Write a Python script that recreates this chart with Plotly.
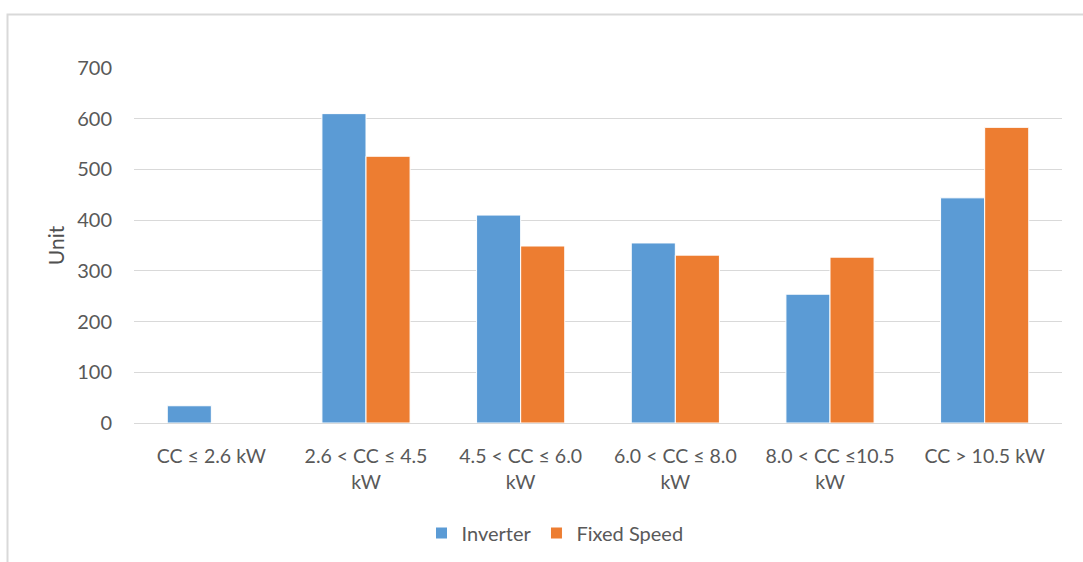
import plotly.graph_objects as go

# Cooling-capacity bands and unit counts per compressor type
categories = [
    "CC ≤ 2.6 kW",
    "2.6 < CC ≤ 4.5<br>kW",
    "4.5 < CC ≤ 6.0<br>kW",
    "6.0 < CC ≤ 8.0<br>kW",
    "8.0 < CC ≤10.5<br>kW",
    "CC > 10.5 kW",
]
inverter = [34, 610, 410, 355, 254, 444]
fixed_speed = [0, 526, 349, 331, 327, 583]
y_ticks = [0, 100, 200, 300, 400, 500, 600, 700]

W, H = 1083, 562
L, R, T, B = 134, 21, 68, 139
pw, ph = W - L - R, H - T - B

FONT = "Lato"
GREY = "#595959"

fig = go.Figure()
fig.add_trace(go.Bar(
    x=categories, y=inverter, name="Inverter",
    marker=dict(color="#5B9BD5", line=dict(color="#ffffff", width=1)),
))
fig.add_trace(go.Bar(
    x=categories, y=fixed_speed, name="Fixed Speed",
    marker=dict(color="#ED7D31", line=dict(color="#ffffff", width=1)),
))

# outer chart-area frame (top and left edges visible, rest runs past the page)
def px_x(p):
    return (p - L) / pw

def px_y(p):
    return (H - B - p) / ph

fig.add_shape(
    type="rect", xref="paper", yref="paper",
    x0=px_x(7.5), x1=px_x(W + 10), y0=px_y(14.5), y1=px_y(H + 10),
    line=dict(color="#d9d9d9", width=2), fillcolor="rgba(0,0,0,0)", layer="below",
)

fig.update_layout(
    width=W, height=H,
    margin=dict(l=L, r=R, t=T, b=B, pad=0, autoexpand=False),
    paper_bgcolor="white", plot_bgcolor="white",
    barmode="group", bargap=0.43, bargroupgap=0,
    font=dict(family=FONT, size=19, color=GREY),
    showlegend=True,
    legend=dict(
        orientation="h",
        xref="container", x=555 / W, xanchor="center",
        yref="container", y=(H - 533) / H, yanchor="middle",
        font=dict(family=FONT, size=20, color=GREY),
        traceorder="normal",
    ),
    xaxis=dict(
        showgrid=False, showline=True, linecolor="#d9d9d9", linewidth=1,
        ticks="", ticklabelstandoff=16,
        tickfont=dict(family=FONT, size=19.5, color=GREY),
    ),
    yaxis=dict(
        range=[0, 700], tickvals=y_ticks,
        showgrid=True, gridcolor="#d9d9d9", gridwidth=1,
        zeroline=False, showline=False, ticks="",
        ticklabelstandoff=21,
        tickfont=dict(family=FONT, size=20, color=GREY),
        title=dict(text="Unit", standoff=6,
                   font=dict(family=FONT, size=21, color="#505050")),
    ),
)

fig.write_html("out.html")
